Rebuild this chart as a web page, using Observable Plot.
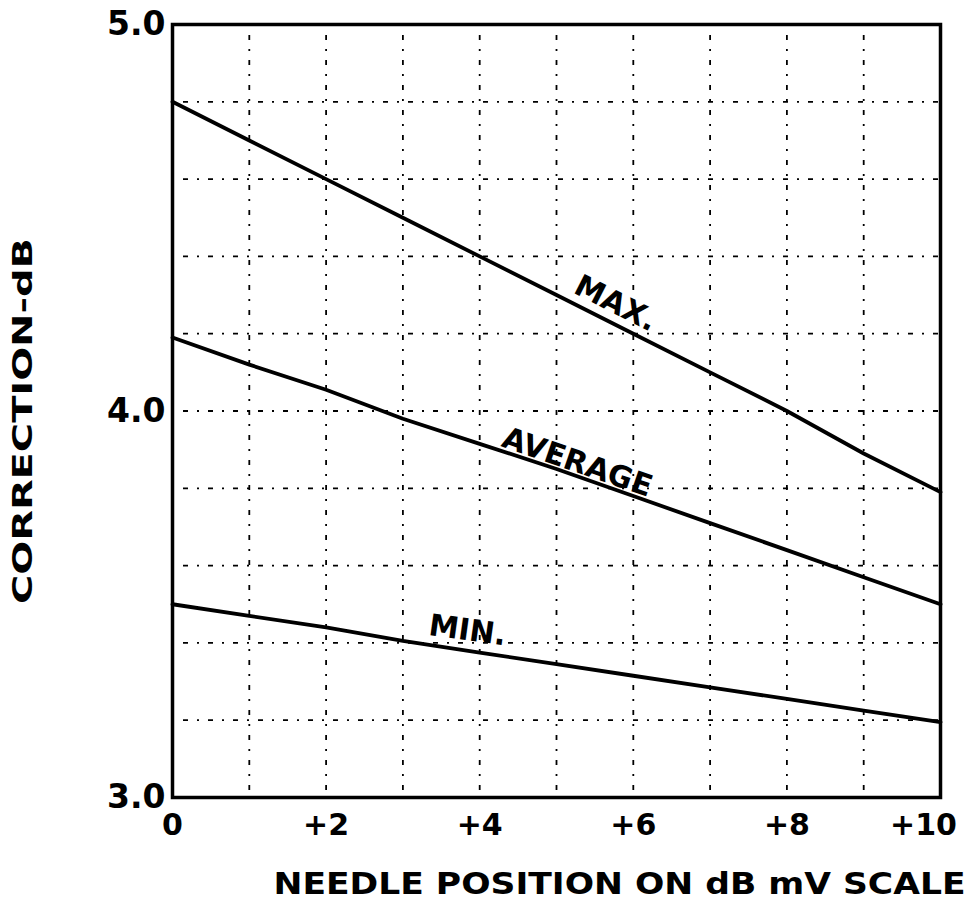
<!DOCTYPE html>
<html>
<head>
<meta charset="utf-8">
<script src="https://cdn.jsdelivr.net/npm/d3@7"></script>
<script src="https://cdn.jsdelivr.net/npm/@observablehq/plot@0.6"></script>
<style>
  body { margin: 0; background: #fff; }
  svg { display: block; }
</style>
</head>
<body>
<div id="chart"></div>
<script>
const xPos = [0, 1, 2, 3, 4, 5, 6, 7, 8, 9, 10];
const maxVals = [4.80, 4.70, 4.60, 4.50, 4.40, 4.30, 4.20, 4.10, 4.00, 3.89, 3.79];
const avgVals = [4.19, 4.12, 4.055, 3.98, 3.915, 3.85, 3.78, 3.71, 3.64, 3.57, 3.50];
const minVals = [3.50, 3.47, 3.44, 3.405, 3.375, 3.345, 3.315, 3.285, 3.255, 3.225, 3.195];
const xTicksInner = [0, 2, 4, 6, 8];
const xTickLast = [10];
const yTicks = [3, 4, 5];
const xGrid = [1, 2, 3, 4, 5, 6, 7, 8, 9];
const yGrid = [3.2, 3.4, 3.6, 3.8, 4.0, 4.2, 4.4, 4.6, 4.8];
const seriesNames = ["MAX.", "AVERAGE", "MIN."];
const labelPos = [
  {name: "MAX.", x: 5.77, y: 4.278, rotate: 27},
  {name: "AVERAGE", x: 5.27, y: 3.867, rotate: 19},
  {name: "MIN.", x: 3.84, y: 3.432, rotate: 8}
];
const xLabel = "NEEDLE POSITION ON dB mV SCALE";
const yLabel = "CORRECTION-dB";

const seriesVals = [maxVals, avgVals, minVals];
const rows = seriesNames.flatMap((s, i) => xPos.map((x, j) => ({series: s, x, y: seriesVals[i][j]})));

const font = "DejaVu Sans, sans-serif";
const gridDash = "2,9,5,9";
const xFmt = d => d === 0 ? "0" : "+" + d;

const chart = Plot.plot({
  width: 970,
  height: 903,
  marginLeft: 172,
  marginTop: 24,
  marginRight: 30,
  marginBottom: 106,
  style: {fontFamily: font, background: "#fff", color: "#000"},
  x: {domain: [0, 10], label: null},
  y: {domain: [3, 5], label: null},
  marks: [
    Plot.ruleY(yGrid, {stroke: "#000", strokeWidth: 1.8, strokeDasharray: gridDash}),
    Plot.ruleX(xGrid, {stroke: "#000", strokeWidth: 1.8, strokeDasharray: gridDash}),
    Plot.frame({stroke: "#000", strokeWidth: 3.5}),
    Plot.line(rows, {x: "x", y: "y", z: "series", stroke: "#000", strokeWidth: 3.8, curve: "linear"}),
    Plot.axisX({ticks: xTicksInner, tickSize: 0, tickPadding: 16, fontSize: 30, fontWeight: "bold",
      tickFormat: xFmt, label: null}),
    Plot.axisX({ticks: xTickLast, tickSize: 0, tickPadding: 16, fontSize: 30, fontWeight: "bold",
      tickFormat: xFmt, label: null, dx: -17}),
    Plot.axisY({ticks: yTicks, tickSize: 0, tickPadding: 7, fontSize: 33, fontWeight: "bold",
      tickFormat: d => d.toFixed(1), label: null}),
    Plot.text(labelPos, {x: "x", y: "y", text: "name", rotate: "rotate", fontSize: 30,
      fontWeight: "bold", fill: "#000", style: "letter-spacing:3px"}),
    Plot.text([xLabel], {frameAnchor: "bottom-right", dx: 25, dy: 87, textAnchor: "end",
      lineAnchor: "middle", fontSize: 30, fontWeight: "bold", fill: "#000"}),
    Plot.text([yLabel], {frameAnchor: "left", dx: -149, dy: 10, rotate: -90, textAnchor: "middle",
      lineAnchor: "middle", fontSize: 27, fontWeight: "bold", fill: "#000"})
  ]
});
chart.querySelectorAll("text").forEach(t => {
  if (t.textContent === xLabel) {
    t.setAttribute("textLength", 692);
    t.setAttribute("lengthAdjust", "spacingAndGlyphs");
  } else if (t.textContent === yLabel) {
    t.setAttribute("textLength", 366);
    t.setAttribute("lengthAdjust", "spacingAndGlyphs");
  }
});
document.getElementById("chart").appendChild(chart);
</script>
</body>
</html>
